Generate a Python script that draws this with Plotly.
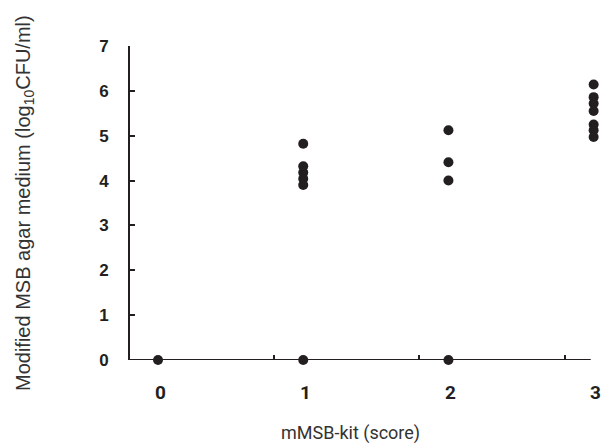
import plotly.graph_objects as go

# Data
values_0 = [0.0]
values_1 = [4.82, 4.32, 4.18, 4.04, 3.90, 0.0]
values_2 = [5.12, 4.41, 4.00, 0.0]
values_3 = [6.14, 5.86, 5.72, 5.55, 5.25, 5.12, 4.97]

x_vals = [0] * len(values_0) + [1] * len(values_1) + [2] * len(values_2) + [3] * len(values_3)
y_vals = values_0 + values_1 + values_2 + values_3

x_tick_labels = ["0", "1", "2", "3"]
x_tick_marks = [0.8, 1.8, 2.8]
y_ticks = [0, 1, 2, 3, 4, 5, 6, 7]

W, H = 604, 444
L, T, R, B = 130, 46, 6, 84
PW, PH = W - L - R, H - T - B


def px_x(X):
    return (X - L) / PW


def px_y(Y):
    return (H - B - Y) / PH


fig = go.Figure()
fig.add_trace(go.Scatter(
    x=x_vals, y=y_vals, mode="markers",
    marker=dict(size=10, color="#231f20"),
    cliponaxis=False, showlegend=False, hoverinfo="skip",
))

axis_color = "#231f20"
x_min, x_axis_end = -0.193, 2.98
fig.update_layout(
    width=W, height=H,
    margin=dict(l=L, r=R, t=T, b=B),
    plot_bgcolor="white", paper_bgcolor="white",
    xaxis=dict(
        range=[x_min, 3.03], showgrid=False, zeroline=False,
        showline=False,
        ticks="inside", ticklen=5, tickwidth=2, tickcolor=axis_color,
        tickvals=x_tick_marks, showticklabels=False,
    ),
    yaxis=dict(
        range=[0, 7], showgrid=False, zeroline=False,
        showline=True, linecolor=axis_color, linewidth=2,
        ticks="inside", ticklen=5, tickwidth=2, tickcolor=axis_color,
        tickvals=y_ticks, ticklabelstandoff=16,
        tickfont=dict(family="Liberation Sans, Arial", size=17, color="#231f20", weight="bold"),
    ),
)

# x axis baseline (stops just short of the last category)
fig.add_shape(type="line", xref="x", yref="y", x0=x_min, x1=x_axis_end, y0=0, y1=0,
              line=dict(color=axis_color, width=2), layer="above")

for i, lab in enumerate(x_tick_labels):
    fig.add_annotation(
        x=i, xref="x", y=px_y(392), yref="paper", yanchor="middle", xanchor="center",
        xshift=2,
        text="<b>" + lab + "</b>", showarrow=False,
        font=dict(family="Roboto, Liberation Sans", size=19, color="#231f20"),
    )

fig.add_annotation(
    x=px_x(350), xref="paper", y=px_y(433), yref="paper", showarrow=False,
    xanchor="center", yanchor="middle",
    text="mMSB-kit (score)",
    font=dict(family="Roboto, Noto Sans", size=18, color="#333333"),
)

fig.add_annotation(
    x=px_x(24), xref="paper", y=0.5, yref="paper", showarrow=False,
    text="Modified MSB agar medium (log<sub>10</sub>CFU/ml)", textangle=-90,
    xanchor="center", yanchor="middle",
    font=dict(family="Liberation Sans, Arial", size=20, color="#333333"),
)

fig.write_html(
    "out.html",
    config={"displayModeBar": False},
    post_script="document.body.style.margin='0';document.body.style.overflow='hidden';",
)
